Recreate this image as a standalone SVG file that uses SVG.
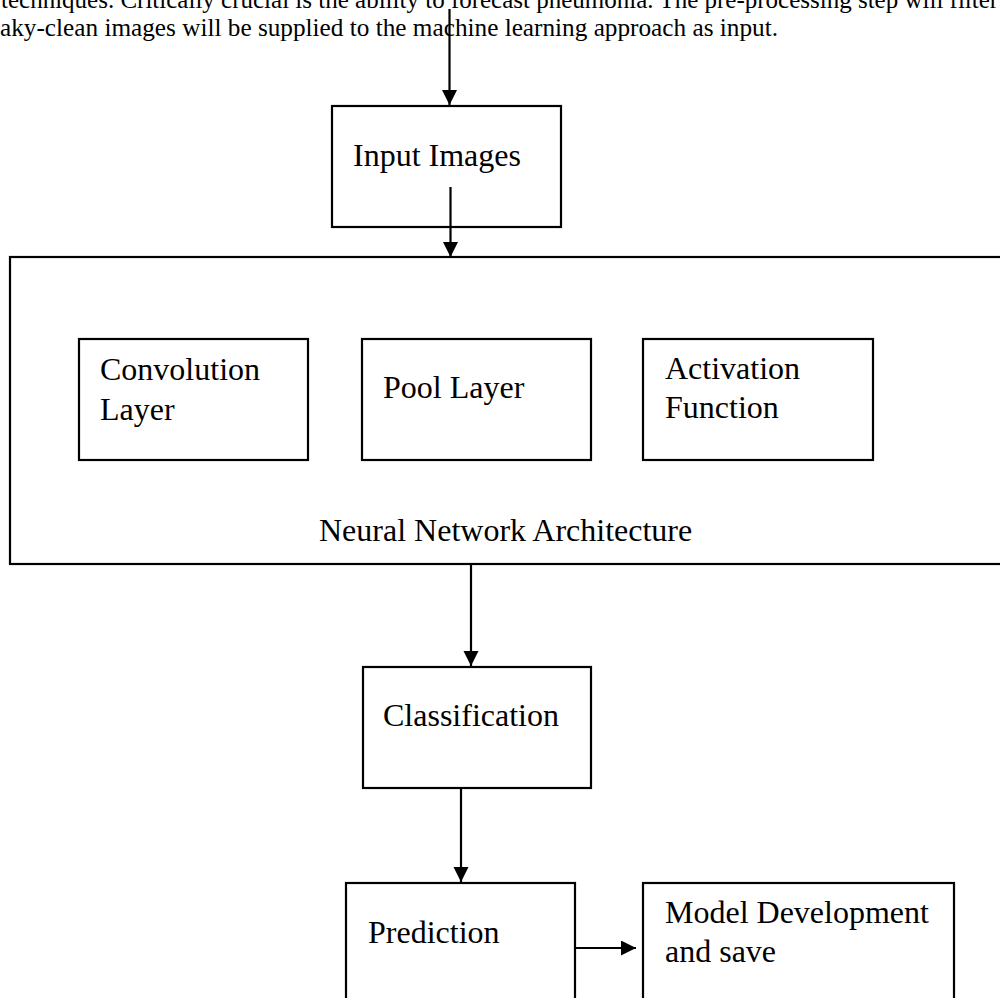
<svg xmlns="http://www.w3.org/2000/svg" width="1000" height="998" viewBox="0 0 1000 998">
  <style>
    .box { fill: #ffffff; stroke: #000000; stroke-width: 2.2; }
    .big { fill: none; stroke: #000000; stroke-width: 2.2; }
    .lbl { font-family: "Liberation Serif", "Times New Roman", serif; font-size: 32px; fill: #000000; }
    .para { font-family: "Liberation Serif", "Times New Roman", serif; font-size: 25px; fill: #000000; }
    .conn { stroke: #000000; stroke-width: 2.2; fill: none; }
  </style>
  <defs>
    <marker id="arrow" markerUnits="userSpaceOnUse" markerWidth="16" markerHeight="16" refX="15" refY="7.5" orient="auto">
      <path d="M0,0 L15,7.5 L0,15 Z" fill="#000000"/>
    </marker>
  </defs>
  <rect width="1000" height="998" fill="#ffffff"/>

  <g id="paragraph">
    <text class="para" x="1" y="8">techniques. Critically crucial is the ability to forecast pneumonia. The pre-processing step will filter</text>
    <text class="para" x="0" y="36" textLength="778" lengthAdjust="spacingAndGlyphs">aky-clean images will be supplied to the machine learning approach as input.</text>
  </g>

  <g id="node-input">
    <rect class="box" x="332" y="106" width="229" height="121"/>
    <text class="lbl" x="353" y="166">Input Images</text>
  </g>

  <g id="node-nna">
    <rect class="big" x="10" y="257" width="1005" height="307"/>
    <text class="lbl" x="319" y="541">Neural Network Architecture</text>
  </g>

  <g id="node-conv">
    <rect class="box" x="79" y="339" width="229" height="121"/>
    <text class="lbl" x="100" y="380">Convolution</text>
    <text class="lbl" x="100" y="420">Layer</text>
  </g>

  <g id="node-pool">
    <rect class="box" x="362" y="339" width="229" height="121"/>
    <text class="lbl" x="383" y="398">Pool Layer</text>
  </g>

  <g id="node-act">
    <rect class="box" x="643" y="339" width="230" height="121"/>
    <text class="lbl" x="665" y="379">Activation</text>
    <text class="lbl" x="665" y="418">Function</text>
  </g>

  <g id="node-class">
    <rect class="box" x="363" y="667" width="228" height="121"/>
    <text class="lbl" x="383" y="726">Classification</text>
  </g>

  <g id="node-pred">
    <rect class="box" x="346" y="883" width="229" height="130"/>
    <text class="lbl" x="368" y="943">Prediction</text>
  </g>

  <g id="node-model">
    <rect class="box" x="643" y="883" width="311" height="130"/>
    <text class="lbl" x="665" y="923">Model Development</text>
    <text class="lbl" x="665" y="962">and save</text>
  </g>

  <g id="connectors">
    <line class="conn" x1="449.5" y1="9" x2="449.5" y2="105" marker-end="url(#arrow)"/>
    <line class="conn" x1="450.5" y1="187" x2="450.5" y2="257" marker-end="url(#arrow)"/>
    <line class="conn" x1="471" y1="564" x2="471" y2="666" marker-end="url(#arrow)"/>
    <line class="conn" x1="461" y1="788" x2="461" y2="882" marker-end="url(#arrow)"/>
    <line class="conn" x1="575" y1="948" x2="636" y2="948" marker-end="url(#arrow)"/>
  </g>
</svg>
